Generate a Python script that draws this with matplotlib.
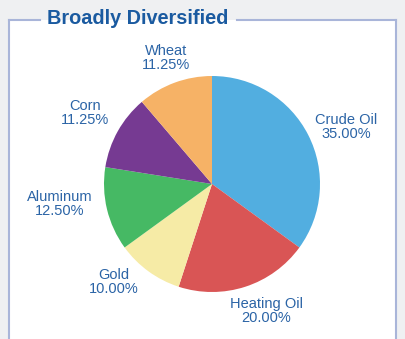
import numpy as np
import matplotlib.pyplot as plt
from matplotlib.patches import Rectangle

categories = ['Crude Oil', 'Heating Oil', 'Gold', 'Aluminum', 'Corn', 'Wheat']
weights = [35.00, 20.00, 10.00, 12.50, 11.25, 11.25]
colors = ['#52aee0', '#d95555', '#f6eba6', '#46b964', '#763a92', '#f6b266']

TITLE = 'Broadly Diversified'
W, H = 406, 339
BLUE = '#2b64a6'
BORDER = '#a9b5d9'

plt.rcParams['font.family'] = ['Liberation Sans', 'DejaVu Sans']

fig = plt.figure(figsize=(W / 100, H / 100), dpi=100, facecolor='#eff0f2')
ax = fig.add_axes([0, 0, 1, 1])
ax.set_xlim(0, W)
ax.set_ylim(0, H)
ax.set_aspect('equal')
ax.axis('off')

# white panel with border, gap in the top edge for the title
top = H - 20
ax.add_patch(Rectangle((9, -5), 387, top + 5, facecolor='white', edgecolor='none'))
ax.plot([9, 9], [-5, top], color=BORDER, lw=1.5)
ax.plot([396, 396], [-5, top], color=BORDER, lw=1.5)
ax.plot([9, 40], [top, top], color=BORDER, lw=1.5)
ax.plot([237, 396], [top, top], color=BORDER, lw=1.5)
ax.text(47, H - 18, TITLE, fontsize=14.3, fontweight='bold', color='#1a5aa0',
        ha='left', va='center')

cx, cy, r = 212, H - 184, 108
wedges, _ = ax.pie(weights, colors=colors, startangle=90, counterclock=False,
                   center=(cx, cy), radius=r, frame=True,
                   wedgeprops=dict(linewidth=0))
ax.set_xlim(0, W)
ax.set_ylim(0, H)
ax.axis('off')

# label placement tweaks (distance in radii, angle offset in degrees)
dist = [1.35, 1.28, 1.28, 1.42, 1.35, 1.24]
shift = [-4, 5, -9, -6, 0, 0]
for w, name, val, d, s in zip(wedges, categories, weights, dist, shift):
    ang = np.deg2rad((w.theta1 + w.theta2) / 2 + s)
    x = cx + d * r * np.cos(ang)
    y = cy + d * r * np.sin(ang)
    ax.text(x, y, f'{name}\n{val:.2f}%', ha='center', va='center',
            fontsize=10.5, color=BLUE, linespacing=1.0)

fig.savefig('out.png', dpi=100, facecolor=fig.get_facecolor())
